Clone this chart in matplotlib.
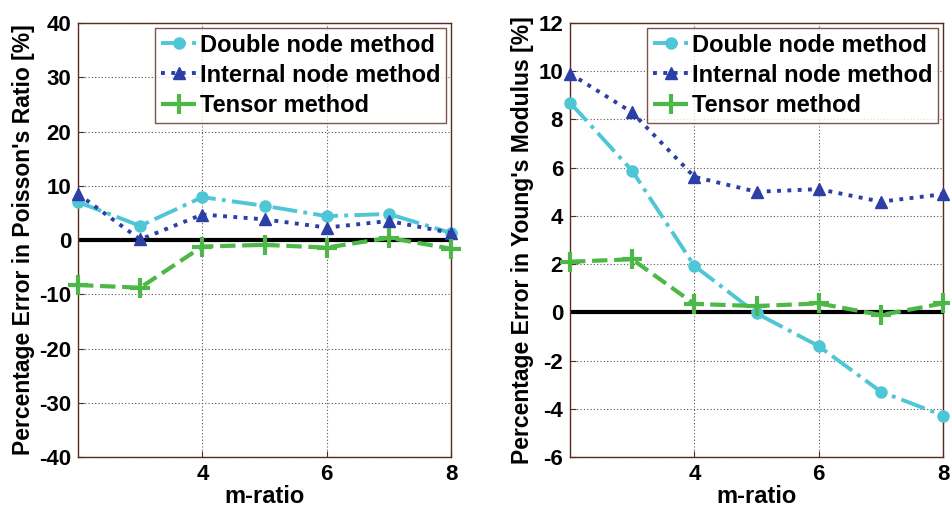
import matplotlib
matplotlib.use("Agg")
import matplotlib.pyplot as plt

plt.rcParams['font.family'] = ['Liberation Sans', 'DejaVu Sans']
plt.rcParams['font.weight'] = 'bold'
plt.rcParams['axes.unicode_minus'] = False

m_ratio = [2, 3, 4, 5, 6, 7, 8]

poisson_double = [7.0, 2.6, 7.9, 6.3, 4.4, 4.8, 1.3]
poisson_internal = [8.5, 0.1, 4.7, 3.8, 2.3, 3.5, 1.3]
poisson_tensor = [-8.3, -8.8, -1.2, -0.9, -1.4, 0.4, -1.6]

young_double = [8.7, 5.87, 1.93, -0.04, -1.4, -3.29, -4.28]
young_internal = [9.9, 8.29, 5.62, 5.0, 5.11, 4.59, 4.9]
young_tensor = [2.1, 2.2, 0.35, 0.26, 0.37, -0.11, 0.37]

series_labels = ["Double node method", "Internal node method", "Tensor method"]
x_ticks = [4, 6, 8]
poisson_yticks = [-40, -30, -20, -10, 0, 10, 20, 30, 40]
young_yticks = [-6, -4, -2, 0, 2, 4, 6, 8, 10, 12]

C_DOUBLE = "#4fc6d6"
C_INTERNAL = "#2b3fa6"
C_TENSOR = "#4db848"
FRAME = "#5a2a20"

fig = plt.figure(figsize=(9.5, 5.11), dpi=100)
ax1 = fig.add_axes([78 / 950, 1 - 457 / 511, 373 / 950, 434 / 511])
ax2 = fig.add_axes([570 / 950, 1 - 457 / 511, 373 / 950, 434 / 511])


def draw(ax, d, i, t, yticks, ylabel):
    ax.axhline(0, color="black", lw=3, zorder=2)
    ax.plot(m_ratio, d, color=C_DOUBLE, ls="-.", lw=2.8, marker="o", ms=8,
            label=series_labels[0], zorder=3, clip_on=False)
    ax.plot(m_ratio, i, color=C_INTERNAL, ls=":", lw=2.8, marker="^", ms=8,
            label=series_labels[1], zorder=4, clip_on=False)
    ax.plot(m_ratio, t, color=C_TENSOR, ls="--", lw=3, marker="+", ms=14, mew=3,
            label=series_labels[2], zorder=5, clip_on=False)
    ax.set_xlim(2, 8)
    ax.set_ylim(yticks[0], yticks[-1])
    ax.set_xticks(x_ticks)
    ax.set_yticks(yticks)
    ax.grid(True, color="#555555", ls=(0, (1, 2)), lw=0.8)
    ax.tick_params(labelsize=16, direction="in", length=4, color=FRAME, pad=5)
    for lab in ax.get_xticklabels() + ax.get_yticklabels():
        lab.set_fontweight("bold")
    for sp in ax.spines.values():
        sp.set_color(FRAME)
        sp.set_linewidth(1.0)
    ax.set_xlabel("m-ratio", fontsize=17, fontweight="bold", labelpad=0)
    ax.set_ylabel(ylabel, fontsize=16.5, fontweight="bold", labelpad=3)
    leg = ax.legend(loc="upper right", fontsize=17, frameon=True, fancybox=False,
                    borderpad=0.25, labelspacing=0.3, handlelength=1.5,
                    handletextpad=0.15, borderaxespad=0.2)
    leg.get_frame().set_edgecolor(FRAME)
    leg.get_frame().set_linewidth(1.0)
    for txt in leg.get_texts():
        txt.set_fontweight("bold")


draw(ax1, poisson_double, poisson_internal, poisson_tensor, poisson_yticks,
     "Percentage Error in Poisson's Ratio [%]")
draw(ax2, young_double, young_internal, young_tensor, young_yticks,
     "Percentage Error in Young's Modulus [%]")

fig.savefig("out.png", dpi=100)
